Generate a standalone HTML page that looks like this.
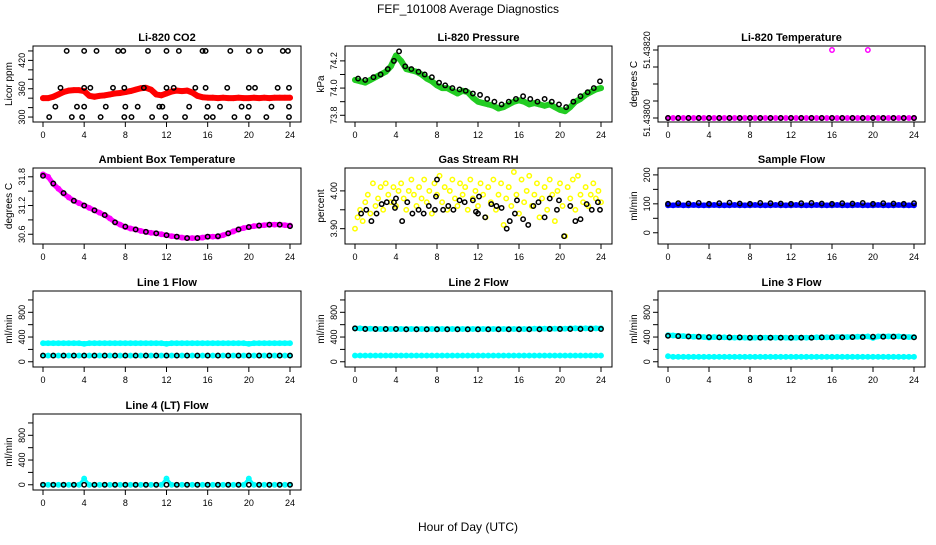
<!DOCTYPE html>
<html><head><meta charset="utf-8"><style>
body{margin:0;background:#fff;}
svg text{font-family:"Liberation Sans",sans-serif;}
</style></head><body>
<svg id="c" width="936" height="540" xmlns="http://www.w3.org/2000/svg">
<text x="468" y="13" text-anchor="middle" font-size="12">FEF_101008  Average Diagnostics</text>
<text x="468" y="531" text-anchor="middle" font-size="12">Hour of Day (UTC)</text>
</svg>
<script>
// ---- data ----
const xTicks=[0,4,8,12,16,20,24];
const co2Red=[340,340,343,348,353,356,357,357,355,345,343,345,346,348,350,351,353,355,358,361,362,358,348,346,350,354,356,355,356,352,345,342,341,341,340,341,340,340,341,340,340,341,340,341,340,341,341,341,341];
const co2BlackX=[2.3,4.0,5.2,7.3,7.8,10.2,12.0,13.2,15.5,15.8,18.2,20.0,21.1,23.3,23.8,1.7,4.0,4.6,6.8,7.9,9.8,12.0,12.7,14.8,15.8,17.9,20.0,20.6,22.8,23.9,1.2,3.3,4.0,6.1,8.0,9.2,11.3,11.6,14.2,16.0,17.2,19.3,20.0,22.2,23.9,0.6,2.8,3.8,5.6,7.9,8.6,10.6,11.9,13.8,15.9,16.5,18.6,19.9,21.7,23.9];
const co2BlackY=[440,440,440,440,440,440,440,440,440,440,440,440,440,440,440,362,362,362,362,362,362,362,362,362,362,362,362,362,362,362,322,322,322,322,322,322,322,322,322,322,322,322,322,322,322,300,300,300,300,300,300,300,300,300,300,300,300,300,300,300];
const presGreen=[74.06,74.05,74.04,74.06,74.08,74.1,74.12,74.16,74.24,74.2,74.14,74.13,74.12,74.1,74.07,74.05,74.02,74.0,74.0,73.98,73.96,73.98,73.97,73.93,73.9,73.89,73.88,73.87,73.85,73.86,73.88,73.9,73.91,73.9,73.88,73.89,73.88,73.87,73.88,73.86,73.84,73.83,73.86,73.9,73.92,73.95,73.97,73.99,74.0];
const presBlackX=[0.3,1,1.8,2.5,3.2,3.8,4.3,4.9,5.5,6.2,6.8,7.5,8.2,8.8,9.5,10.2,10.8,11.5,12.2,12.9,13.6,14.3,15,15.7,16.4,17.1,17.8,18.5,19.2,19.9,20.6,21.3,22,22.7,23.3,23.9];
const presBlackY=[74.07,74.06,74.08,74.1,74.14,74.2,74.27,74.16,74.14,74.12,74.1,74.08,74.04,74.02,74.0,73.99,73.98,73.96,73.95,73.92,73.9,73.88,73.9,73.92,73.94,73.92,73.9,73.92,73.9,73.88,73.86,73.9,73.94,73.97,74.0,74.05];
const tempMag=[51.438,51.438,51.438,51.438,51.438,51.438,51.438,51.438,51.438,51.438,51.438,51.438,51.438,51.438,51.438,51.438,51.438,51.438,51.438,51.438,51.438,51.438,51.438,51.438,51.438,51.438,51.438,51.438,51.438,51.438,51.438,51.438,51.438,51.438,51.438,51.438,51.438,51.438,51.438,51.438,51.438,51.438,51.438,51.438,51.438,51.438,51.438,51.438,51.438];
const tempOutX=[16.0,19.5];
const tempOutY=[51.4382,51.4382];
const ambMag=[31.85,31.8,31.65,31.55,31.45,31.37,31.3,31.25,31.2,31.15,31.1,31.05,31.0,30.93,30.85,30.8,30.75,30.72,30.7,30.67,30.65,30.63,30.62,30.6,30.58,30.56,30.55,30.53,30.52,30.52,30.52,30.53,30.55,30.55,30.55,30.58,30.62,30.66,30.7,30.73,30.75,30.77,30.78,30.79,30.8,30.8,30.8,30.79,30.78];
const ambBlack=[31.82,31.66,31.46,31.3,31.2,31.1,31.0,30.85,30.76,30.7,30.65,30.62,30.58,30.55,30.52,30.52,30.55,30.56,30.62,30.7,30.75,30.78,30.8,30.8,30.77];
const rhYellow=[3.90,3.93,3.95,3.92,3.97,3.99,3.94,4.02,3.96,3.98,4.01,3.95,4.02,3.99,3.97,4.01,3.96,4.00,4.02,3.98,3.95,4.00,4.03,3.99,3.96,4.01,3.98,4.03,3.97,4.00,3.94,4.02,3.99,4.04,3.97,4.01,3.95,4.00,4.03,3.98,3.96,4.02,3.99,4.01,3.95,4.03,3.98,4.00,3.96,4.02,3.99,3.93,4.01,3.97,4.03,3.95,3.99,4.02,3.91,3.98,4.01,3.96,4.05,3.99,3.94,4.03,3.97,4.00,4.04,3.96,3.99,4.02,3.93,3.98,4.01,3.95,4.03,3.99,3.92,4.00,4.02,3.96,3.88,4.01,3.98,4.03,3.95,4.04,3.99,3.97,4.01,3.96,3.99,4.02,3.98,4.00,3.97];
const rhBlackX=[0.6,1.1,1.6,2.1,2.6,3.1,3.8,3.9,4.0,4.6,5.1,5.6,6.2,6.7,7.2,7.8,7.9,8.0,8.6,9.1,9.6,10.2,10.7,11.5,11.8,12.0,12.1,12.7,13.3,13.8,14.3,14.8,15.1,15.6,15.8,16.4,16.9,17.4,17.9,18.5,19.0,19.7,19.9,20.4,21.0,21.5,22.0,22.6,23.1,23.7,23.9];
const rhBlackY=[3.94,3.95,3.92,3.94,3.965,3.97,3.97,3.955,3.98,3.92,3.97,3.94,3.95,3.94,3.96,3.95,3.985,4.03,3.95,3.96,3.95,3.975,3.97,3.975,3.945,3.94,3.985,3.93,3.965,3.96,3.955,3.90,3.92,3.94,3.975,3.925,3.91,3.96,3.97,3.93,3.98,3.95,3.975,3.88,3.96,3.92,3.925,3.965,3.95,3.97,3.95];
const sfBlue=[95,95,96,95,95,96,95,95,95,96,95,95,95,96,95,95,95,96,95,95,95,96,95,95,95,96,95,95,95,96,95,95,95,96,95,95,95,96,95,95,95,96,95,95,95,96,95,95,95];
const sfBlack=[100,102,101,103,100,102,104,101,100,103,102,101,100,102,103,101,100,102,101,103,100,102,101,100,102];
const l1Upper=[300,300,300,300,300,300,300,300,290,300,300,300,300,300,300,300,300,300,300,300,300,300,300,300,290,300,300,300,300,300,300,300,300,300,300,300,300,300,300,300,290,300,300,300,300,300,300,300,300];
const l1Lower=[100,100,100,100,100,100,100,100,100,100,100,100,100,100,100,100,100,100,100,100,100,100,100,100,100,100,100,100,100,100,100,100,100,100,100,100,100,100,100,100,100,100,100,100,100,100,100,100,100];
const l1Black=[100,100,100,100,100,100,100,100,100,100,100,100,100,100,100,100,100,100,100,100,100,100,100,100,100];
const l2Upper=[540,540,535,535,530,530,530,530,530,530,530,530,530,530,530,530,530,530,530,530,530,530,530,530,530,530,530,530,530,530,530,530,530,530,530,535,535,535,535,535,535,535,540,540,540,540,540,540,540];
const l2Lower=[100,100,100,100,100,100,100,100,100,100,100,100,100,100,100,100,100,100,100,100,100,100,100,100,100,100,100,100,100,100,100,100,100,100,100,100,100,100,100,100,100,100,100,100,100,100,100,100,100];
const l2Black=[540,530,530,530,530,525,525,525,525,525,525,525,525,525,525,525,525,525,525,530,530,530,530,530,530];
const l3Upper=[430,425,420,415,410,405,405,400,390,400,395,395,390,390,390,390,385,390,390,390,390,390,390,390,385,390,390,390,390,395,395,395,395,400,400,400,400,405,405,410,385,410,410,410,410,410,405,400,400];
const l3Lower=[90,80,80,80,80,80,80,80,80,80,80,80,80,80,80,80,80,80,80,80,80,80,80,80,80,80,80,80,80,80,80,80,80,80,80,80,80,80,80,80,80,80,80,80,80,80,80,80,80];
const l3Black=[420,415,410,405,400,395,395,395,390,390,390,390,390,390,390,395,395,395,400,400,405,405,405,400,395];
const l4Cyan=[0,0,0,0,0,0,0,0,100,0,0,0,0,0,0,0,0,0,0,0,0,0,0,0,100,0,0,0,0,0,0,0,0,0,0,0,0,0,0,0,100,0,0,0,0,0,0,0,0];
const l4Black=[0,0,0,0,0,0,0,0,0,0,0,0,0,0,0,0,0,0,0,0,0,0,0,0,0];
const flowTicks=[0,200,400,600,800,1000];
const flowLabels=[0,400,800];

// ---- layout ----
const svg=document.getElementById('c');
const NS='http://www.w3.org/2000/svg';
const colX=[[33,301],[345,612],[658,925]];
const rowY=[46,168,291,414];
function el(tag,at,parent){const e=document.createElementNS(NS,tag);for(const k in at)e.setAttribute(k,at[k]);(parent||svg).appendChild(e);return e;}
function halfHours(n){const a=[];for(let i=0;i<n;i++)a.push(i*24/(n-1));return a;}

function panel(p){
  const [bx0,bx1]=colX[p.col];const by0=rowY[p.row],by1=by0+76;
  const g=el('g',{});
  
  
  const xs=h=>bx0+10+h*(bx1-bx0-21)/24;
  const ys=v=>by1-4-(v-p.ylo)*(by1-by0-8)/(p.yhi-p.ylo);
  const box=el('rect',{x:bx0,y:by0,width:bx1-bx0,height:by1-by0,fill:'none',stroke:'#000','stroke-width':1},g);
  
  
  const t=el('text',{x:(bx0+bx1)/2,y:by0-5,'text-anchor':'middle','font-size':11,'font-weight':'bold'},g);t.textContent=p.title;
  
  
  const yl=el('text',{x:0,y:0,'text-anchor':'middle','font-size':10,transform:`translate(${bx0-21},${(by0+by1)/2}) rotate(-90)`},g);yl.textContent=p.ylab;
  
  
  el('line',{x1:xs(0),x2:xs(24),y1:by1,y2:by1,stroke:'#000'},g);
  xTicks.forEach(h=>{el('line',{x1:xs(h),x2:xs(h),y1:by1,y2:by1+5,stroke:'#000'},g);
    const tx=el('text',{x:xs(h),y:by1+16,'text-anchor':'middle','font-size':9},g);tx.textContent=h;
    
    });
  el('line',{x1:bx0,x2:bx0,y1:ys(p.ticks[0]),y2:ys(p.ticks[p.ticks.length-1]),stroke:'#000'},g);
  p.ticks.forEach(v=>el('line',{x1:bx0-5,x2:bx0,y1:ys(v),y2:ys(v),stroke:'#000'},g));
  p.labels.forEach(v=>{const ty=el('text',{x:0,y:0,'text-anchor':'middle','font-size':9,transform:`translate(${bx0-8},${ys(v)}) rotate(-90)`},g);ty.textContent=p.fmt?p.fmt(v):v;
    
    });
  p.series.forEach(s=>{
    const sg=el('g',{},g);
    
    
    const X=s.x||halfHours(s.y.length);
    if(s.band){el('polyline',{points:X.map((h,i)=>xs(h)+','+ys(s.y[i])).join(' '),fill:'none',stroke:s.color,'stroke-width':s.band,'stroke-linejoin':'round','stroke-linecap':'round'},sg);}
    X.forEach((h,i)=>{const c=el('circle',{cx:xs(h),cy:ys(s.y[i]),r:2.2,fill:'none',stroke:s.color,'stroke-width':1.5},sg);
      
      });
  });
}
const flowPanel=(title,col,row,series)=>({title,col,row,ylab:'ml/min',ylo:-20,yhi:1080,ticks:flowTicks,labels:flowLabels,series,name:title.toLowerCase().replace(/[^a-z0-9]+/g,'-')+'-panel'});
const panels=[
 {name:'co2-panel',title:'Li-820 CO2',col:0,row:0,ylab:'Licor ppm',ylo:298,yhi:442,ticks:[300,320,340,360,380,400,420,440],labels:[300,360,420],
  series:[{name:'co2-series',y:co2Red,color:'#f00',band:6},{name:'co2-black',x:co2BlackX,y:co2BlackY,color:'#000'}]},
 {name:'pressure-panel',title:'Li-820 Pressure',col:1,row:0,ylab:'kPa',ylo:73.78,yhi:74.28,ticks:[73.8,73.9,74.0,74.1,74.2],labels:[73.8,74.0,74.2],fmt:v=>v.toFixed(1),
  series:[{name:'pressure-series',y:presGreen,color:'#2c2',band:6},{name:'pressure-black',x:presBlackX,y:presBlackY,color:'#000'}]},
 {name:'temperature-panel',title:'Li-820 Temperature',col:2,row:0,ylab:'degrees C',ylo:51.438,yhi:51.4382,ticks:[51.438,51.43805,51.4381,51.43815,51.4382],labels:[51.438,51.4382],fmt:v=>v.toFixed(5),
  series:[{name:'temperature-series',y:tempMag,color:'#f0f',band:3},{name:'temperature-black',y:tempMag.slice(0,25),color:'#000'},{name:'temperature-outliers',x:tempOutX,y:tempOutY,color:'#f0f'}]},
 {name:'ambient-panel',title:'Ambient Box Temperature',col:0,row:1,ylab:'degrees C',ylo:30.48,yhi:31.9,ticks:[30.6,30.9,31.2,31.5,31.8],labels:[30.6,31.2,31.8],fmt:v=>v.toFixed(1),
  series:[{name:'ambient-series',y:ambMag,color:'#f0f',band:5},{name:'ambient-black',y:ambBlack,color:'#000'}]},
 {name:'rh-panel',title:'Gas Stream RH',col:1,row:1,ylab:'percent',ylo:3.87,yhi:4.05,ticks:[3.9,3.95,4.0],labels:[3.9,4.0],fmt:v=>v.toFixed(2),
  series:[{name:'rh-series',y:rhYellow,color:'#ff0'},{name:'rh-black',x:rhBlackX,y:rhBlackY,color:'#000'}]},
 {name:'sample-flow-panel',title:'Sample Flow',col:2,row:1,ylab:'ml/min',ylo:-25,yhi:210,ticks:[0,50,100,150,200],labels:[0,100,200],
  series:[{name:'sample-flow-series',y:sfBlue,color:'#00f',band:5},{name:'sample-flow-black',y:sfBlack,color:'#000'}]},
 flowPanel('Line 1 Flow',0,2,[{name:'line1-upper',y:l1Upper,color:'#0ff',band:5},{name:'line1-lower',y:l1Lower,color:'#0ff',band:4},{name:'line1-black',y:l1Black,color:'#000'}]),
 flowPanel('Line 2 Flow',1,2,[{name:'line2-upper',y:l2Upper,color:'#0ff',band:5},{name:'line2-lower',y:l2Lower,color:'#0ff',band:4},{name:'line2-black',y:l2Black,color:'#000'}]),
 flowPanel('Line 3 Flow',2,2,[{name:'line3-upper',y:l3Upper,color:'#0ff',band:5},{name:'line3-lower',y:l3Lower,color:'#0ff',band:4},{name:'line3-black',y:l3Black,color:'#000'}]),
 flowPanel('Line 4 (LT) Flow',0,3,[{name:'line4-series',y:l4Cyan,color:'#0ff',band:3},{name:'line4-black',y:l4Black,color:'#000'}])
];
panels.forEach(panel);
</script>
</body></html>
